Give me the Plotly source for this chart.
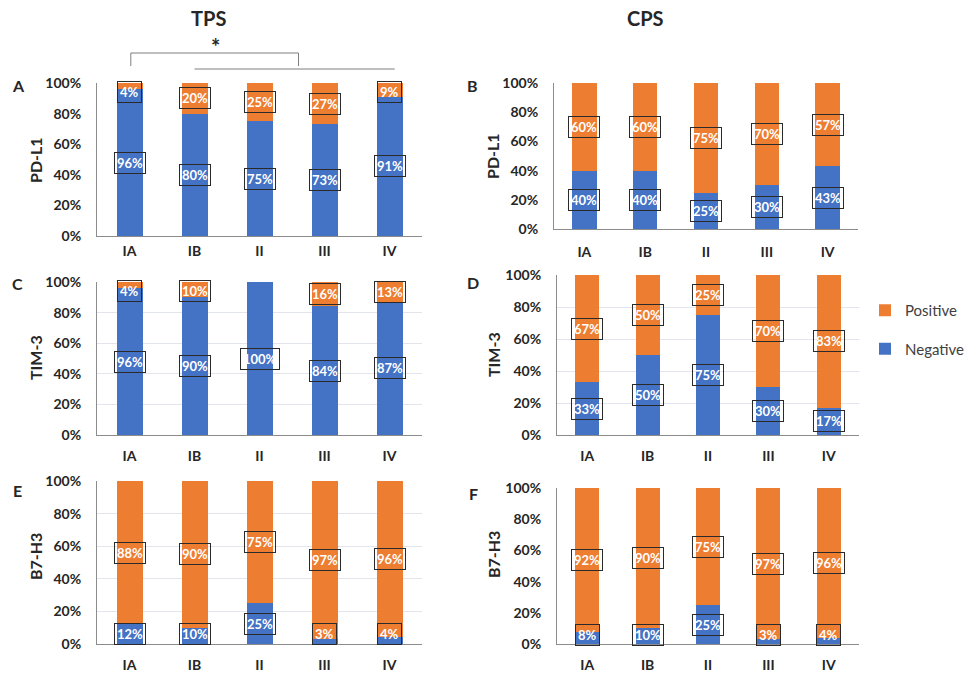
import plotly.graph_objects as go

# ---------------- data ----------------
stages = ["IA", "IB", "II", "III", "IV"]

tps_pdl1_neg = [96, 80, 75, 73, 91]
tps_pdl1_pos = [4, 20, 25, 27, 9]
cps_pdl1_neg = [40, 40, 25, 30, 43]
cps_pdl1_pos = [60, 60, 75, 70, 57]
tps_tim3_neg = [96, 90, 100, 84, 87]
tps_tim3_pos = [4, 10, 0, 16, 13]
cps_tim3_neg = [33, 50, 75, 30, 17]
cps_tim3_pos = [67, 50, 25, 70, 83]
tps_b7h3_neg = [12, 10, 25, 3, 4]
tps_b7h3_pos = [88, 90, 75, 97, 96]
cps_b7h3_neg = [8, 10, 25, 3, 4]
cps_b7h3_pos = [92, 90, 75, 97, 96]

y_tick_vals = [0, 20, 40, 60, 80, 100]
y_tick_text = ["0%", "20%", "40%", "60%", "80%", "100%"]

# ---------------- styling ----------------
W, H = 972, 676
BLUE = "#4472C4"
ORANGE = "#ED7D31"
FONT = "Lato"
TXT = "#262626"


def px(x):
    return x / W


def py(y):
    return 1 - y / H


# (neg, pos, letter, ytitle, x0, x1, ytop, ybottom, grid, xstandoff, letter_xy, ytitle_xy)
panels = [
    (tps_pdl1_neg, tps_pdl1_pos, "A", "PD-L1", 97, 422, 83, 236, False, 2, (18, 85), (35, 160)),
    (cps_pdl1_neg, cps_pdl1_pos, "B", "PD-L1", 554, 858, 83, 229, False, 10, (472, 85), (492, 156)),
    (tps_tim3_neg, tps_tim3_pos, "C", "TIM-3", 97, 422, 282, 435, True, 8, (17, 283), (35, 358)),
    (cps_tim3_neg, cps_tim3_pos, "D", "TIM-3", 557, 859, 275, 435, True, 8, (473, 282), (493, 355)),
    (tps_b7h3_neg, tps_b7h3_pos, "E", "B7-H3", 97, 422, 481, 644, True, 8, (17, 490), (35, 557)),
    (cps_b7h3_neg, cps_b7h3_pos, "F", "B7-H3", 557, 859, 488, 644, False, 8, (473, 493), (493, 555)),
]

fig = go.Figure()
layout = dict(
    width=W, height=H, margin=dict(l=0, r=0, t=0, b=0, pad=0, autoexpand=False),
    paper_bgcolor="white", plot_bgcolor="white",
    barmode="stack", bargap=0.6,
    font=dict(family=FONT, color=TXT),
    showlegend=True,
)
annotations = []
shapes = []

for i, (neg, pos, letter, ytitle, x0, x1, yt, yb, grid, xso, lxy, txy) in enumerate(panels):
    n = "" if i == 0 else str(i + 1)
    xa, ya = "x" + n, "y" + n
    show = (letter == "D")
    fig.add_trace(go.Bar(x=stages, y=neg, name="Negative", marker=dict(color=BLUE, line=dict(width=0)),
                         xaxis=xa, yaxis=ya, showlegend=show, legendgroup="neg", legendrank=2,
                         hoverinfo="skip"))
    fig.add_trace(go.Bar(x=stages, y=pos, name="Positive", marker=dict(color=ORANGE, line=dict(width=0)),
                         xaxis=xa, yaxis=ya, showlegend=show, legendgroup="pos", legendrank=1,
                         hoverinfo="skip"))
    layout["xaxis" + n] = dict(
        domain=[px(x0), px(x1)], anchor=ya, type="category",
        categoryorder="array", categoryarray=stages,
        showline=True, linecolor="#8c8c8c", linewidth=1, ticks="", showgrid=False,
        tickfont=dict(family=FONT, size=14, color=TXT, weight="bold"),
        ticklabelstandoff=xso, fixedrange=True, automargin=False,
    )
    layout["yaxis" + n] = dict(
        domain=[py(yb), py(yt)], anchor=xa, range=[0, 100],
        tickvals=y_tick_vals, ticktext=y_tick_text,
        showline=True, linecolor="#8c8c8c", linewidth=1, ticks="",
        showgrid=grid, gridcolor="#E3E5EC", gridwidth=1, zeroline=False,
        tickfont=dict(family=FONT, size=14, color=TXT, weight="bold"),
        ticklabelstandoff=12, fixedrange=True, automargin=False,
    )
    # boxed value labels
    for k, st in enumerate(stages):
        for val, base in ((neg[k], 0), (pos[k], neg[k])):
            if val <= 0:
                continue
            yc = min(max(base + val / 2, 6), 94)
            annotations.append(dict(
                x=st, y=yc, xref=xa, yref=ya, text=f"<b>{val}%</b>", showarrow=False,
                font=dict(family=FONT, size=13, color="white"),
                bordercolor="#2a2a2a", borderwidth=1, borderpad=2,
            ))
    # panel letter
    annotations.append(dict(x=px(lxy[0]), y=py(lxy[1]), xref="paper", yref="paper",
                            xanchor="center", yanchor="middle",
                            text=f"<b>{letter}</b>", showarrow=False,
                            font=dict(family=FONT, size=16, color=TXT)))
    # y-axis title
    annotations.append(dict(x=px(txy[0]), y=py(txy[1]), xref="paper", yref="paper",
                            xanchor="center", yanchor="middle",
                            text=f"<b>{ytitle}</b>", showarrow=False, textangle=-90,
                            font=dict(family=FONT, size=16, color=TXT)))

# column titles
annotations.append(dict(x=px(208), y=py(18), xref="paper", yref="paper", text="<b>TPS</b>",
                        xanchor="center", yanchor="middle",
                        showarrow=False, font=dict(family=FONT, size=20, color=TXT)))
annotations.append(dict(x=px(645), y=py(18), xref="paper", yref="paper", text="<b>CPS</b>",
                        xanchor="center", yanchor="middle",
                        showarrow=False, font=dict(family=FONT, size=20, color=TXT)))

# significance bracket (panel A)
BR = "#7f7f7f"
shapes.append(dict(type="path", xref="x", yref="paper",
                   path=f"M 0.02,{py(66)} L 0.02,{py(53)} L 2.6,{py(53)} L 2.6,{py(66)}",
                   line=dict(color=BR, width=1)))
shapes.append(dict(type="line", xref="x", yref="paper", x0=1, x1=4.08, y0=py(69), y1=py(69),
                   line=dict(color=BR, width=1)))
annotations.append(dict(x=1.33, y=py(46), xref="x", yref="paper", text="<b>*</b>",
                        xanchor="center", yanchor="middle",
                        showarrow=False, font=dict(family=FONT, size=22, color=TXT)))

layout["annotations"] = annotations
layout["shapes"] = shapes
layout["legend"] = dict(
    x=px(865), y=py(294), xanchor="left", yanchor="top",
    traceorder="grouped", tracegroupgap=16,
    font=dict(family=FONT, size=15, color="#404040"),
    bgcolor="rgba(0,0,0,0)", itemclick=False, itemdoubleclick=False,
)
fig.update_layout(**layout)
fig.write_html(
    "out.html",
    config={"displayModeBar": False},
    post_script="document.body.style.margin='0';document.body.style.padding='0';",
)
